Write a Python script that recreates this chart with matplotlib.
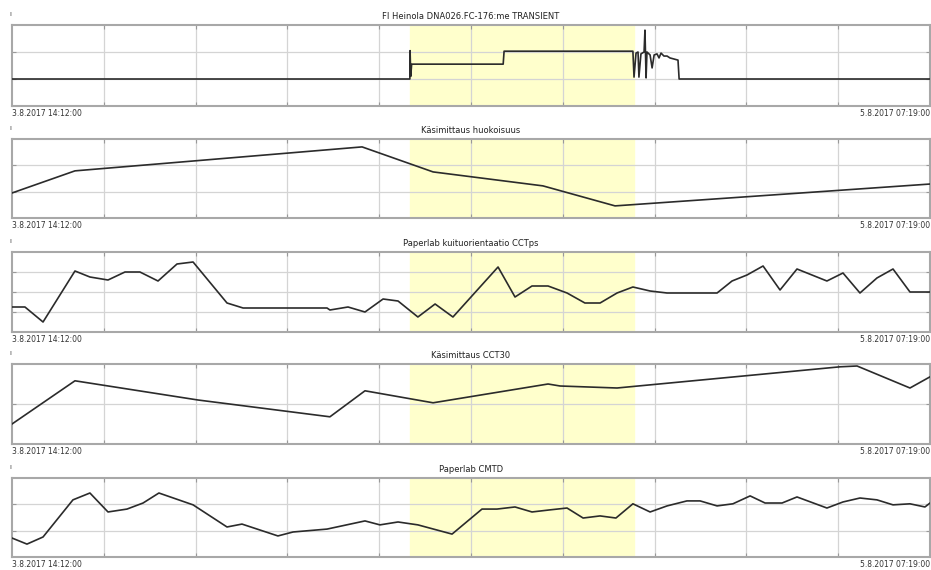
import matplotlib.pyplot as plt
import numpy as np

# time axis: hours since 3.8.2017 14:12:00 (end 5.8.2017 07:19:00)
t_start_label = '3.8.2017 14:12:00'
t_end_label = '5.8.2017 07:19:00'
t_total = 41.117
span_start, span_end = 17.83, 27.86

titles = ['FI Heinola DNA026.FC-176:me TRANSIENT',
          'Käsimittaus huokoisuus',
          'Paperlab kuituorientaatio CCTps',
          'Käsimittaus CCT30',
          'Paperlab CMTD']

t1 = [0, 17.82, 17.83, 17.86, 17.9, 22.0, 22.04, 27.81, 27.86, 27.95, 28.04, 28.08, 28.17,
      28.31, 28.35, 28.40, 28.44, 28.58, 28.67, 28.76, 28.89, 28.98, 29.07, 29.20, 29.34,
      29.47, 29.65, 29.83, 29.88, 41.12]
v1 = [1.0, 1.0, 2.05, 1.1, 1.55, 1.55, 2.03, 2.03, 1.07, 1.96, 2.0, 1.07, 1.93,
      2.0, 2.81, 1.04, 2.0, 1.89, 1.41, 1.89, 1.93, 1.78, 1.96, 1.85, 1.85,
      1.78, 1.74, 1.70, 1.0, 1.0]

t2 = [0, 2.82, 15.68, 18.86, 23.78, 27.01, 41.12]
v2 = [0.95, 1.79, 2.70, 1.75, 1.22, 0.46, 1.29]

t3 = [0, 0.58, 1.39, 2.82, 3.49, 4.30, 5.06, 5.73, 6.54, 7.39, 8.11, 9.63, 10.35, 14.11,
      14.24, 15.05, 15.81, 16.62, 17.29, 18.18, 18.95, 19.75, 21.77, 22.53, 23.29, 24.01,
      24.86, 25.66, 26.34, 27.10, 27.81, 28.58, 29.34, 31.58, 32.25, 32.92, 33.64, 34.40,
      35.16, 36.50, 37.22, 37.98, 38.74, 39.46, 40.22, 41.12]
v3 = [1.25, 1.25, 0.5, 3.05, 2.75, 2.6, 3.0, 3.0, 2.55, 3.4, 3.5, 1.45, 1.2, 1.2,
      1.1, 1.25, 1.0, 1.65, 1.55, 0.75, 1.4, 0.75, 3.25, 1.75, 2.3, 2.3,
      1.95, 1.45, 1.45, 1.95, 2.25, 2.05, 1.95, 1.95, 2.55, 2.85, 3.3, 2.1,
      3.15, 2.55, 2.95, 1.95, 2.7, 3.15, 2.0, 2.0]

t4 = [0, 2.82, 8.33, 14.24, 15.81, 18.86, 24.01, 24.55, 27.10, 37.09, 37.85, 40.22, 41.12]
v4 = [0.5, 1.58, 1.1, 0.68, 1.33, 1.03, 1.5, 1.45, 1.4, 1.93, 1.95, 1.4, 1.68]

t5 = [0, 0.67, 1.39, 2.73, 3.49, 4.30, 5.15, 5.87, 6.58, 8.11, 9.63, 10.30, 11.91, 12.59,
      14.11, 15.81, 16.48, 17.29, 18.18, 19.71, 21.05, 21.72, 22.53, 23.29, 24.10, 24.86,
      25.58, 26.34, 27.05, 27.81, 28.58, 29.34, 30.23, 30.82, 31.58, 32.29, 33.06, 33.73,
      34.49, 35.16, 36.50, 37.22, 37.98, 38.74, 39.46, 40.22, 40.89, 41.12]
v5 = [0.72, 0.49, 0.76, 2.17, 2.43, 1.71, 1.82, 2.05, 2.43, 1.98, 1.14, 1.25, 0.80, 0.95,
      1.06, 1.37, 1.22, 1.33, 1.22, 0.87, 1.82, 1.82, 1.90, 1.71, 1.79, 1.86,
      1.48, 1.56, 1.48, 2.02, 1.71, 1.94, 2.13, 2.13, 1.94, 2.02, 2.32, 2.05,
      2.05, 2.28, 1.86, 2.09, 2.24, 2.17, 1.98, 2.02, 1.90, 2.05]

series = [(t1, v1, 3), (t2, v2, 3), (t3, v3, 4), (t4, v4, 2), (t5, v5, 3)]
panel_px = [(25, 106), (139, 218), (252, 332), (364, 444), (478, 557)]

W, H = 931, 570
fig = plt.figure(figsize=(W / 100, H / 100), dpi=100)

for (t, v, ymax), (top, bot), title in zip(series, panel_px, titles):
    ax = fig.add_axes([12 / W, 1 - bot / H, 918 / W, (bot - top) / H])
    ax.axvspan(span_start, span_end, color='#ffffcc', zorder=0)
    ax.plot(t, v, color='#2b2b2b', lw=1.2, zorder=3)
    ax.set_xlim(0, t_total)
    ax.set_ylim(0, ymax)
    ax.set_xticks(np.linspace(0, t_total, 11)[1:-1])
    ax.set_yticks(range(1, ymax))
    ax.grid(True, color='#d4d4d4', lw=0.9)
    ax.tick_params(direction='in', length=3, color='#999999', labelleft=False,
                   labelbottom=False, top=True, right=True)
    for s in ax.spines.values():
        s.set_color('#a8a8a8')
        s.set_linewidth(1.5)
    ax.set_title(title, fontsize=6, pad=4, color='#222222')
    ax.text(-0.002, 1.1, 'ı', transform=ax.transAxes, fontsize=5,
            ha='center', va='bottom', color='#444444')
    ax.text(0, -0.04, t_start_label, transform=ax.transAxes, fontsize=5.5,
            ha='left', va='top', color='#333333')
    ax.text(1, -0.04, t_end_label, transform=ax.transAxes, fontsize=5.5,
            ha='right', va='top', color='#333333')

fig.savefig('out.png', dpi=100)
